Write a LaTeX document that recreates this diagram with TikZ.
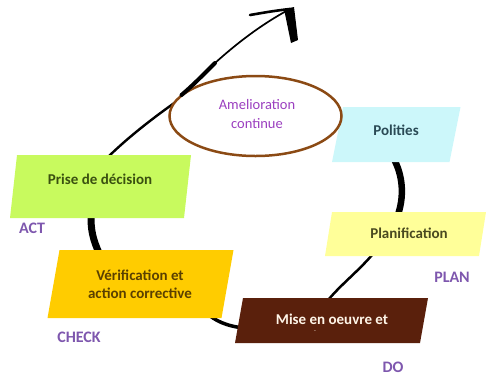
\documentclass[tikz,border=0pt]{standalone}
\usepackage{fontspec}
\setmainfont{Carlito}
\usetikzlibrary{shapes.geometric}
\pgfdeclarelayer{back}
\pgfsetlayers{back,main}
\definecolor{cPrise}{HTML}{C8FA5E}
\definecolor{cPol}{HTML}{CCF7FA}
\definecolor{cPlan}{HTML}{FFFF99}
\definecolor{cVer}{HTML}{FFCC00}
\definecolor{cMise}{HTML}{5A200C}
\definecolor{cEll}{HTML}{8B4A14}
\definecolor{cLab}{HTML}{7E57AE}
\definecolor{cAmel}{HTML}{9B3FC0}
\definecolor{tPrise}{HTML}{3A5010}
\definecolor{tPol}{HTML}{2A4A55}
\definecolor{tPlan}{HTML}{4A4A20}
\definecolor{tVer}{HTML}{5A4000}
\definecolor{tMise}{HTML}{FFF5E8}
\newcommand\pbox[7]{%
  \node[boxnode, minimum width=#4pt, minimum height=#5pt] (#1) at (#2,#3) {};
  \fill[#7] ([xshift=-#6pt/2]#1.south west) -- ([xshift=-#6pt/2]#1.south east)
     -- ([xshift=#6pt/2]#1.north east) -- ([xshift=#6pt/2]#1.north west) -- cycle;}
\begin{document}
\begin{tikzpicture}[x=1pt,y=-1pt,
  boxnode/.style={rectangle, inner sep=0pt, outer sep=0pt},
  boxtext/.style={font=\fontsize{15}{18}\selectfont\bfseries, align=center, inner sep=0pt},
  lab/.style={font=\fontsize{16}{18}\selectfont\bfseries, text=cLab, inner sep=0pt},
  loopline/.style={draw=black, line cap=round}]
\useasboundingbox (0,0) rectangle (486,376);
% boxes
\pbox{pol}{396.25}{134.5}{117.5}{55}{11}{cPol}
\pbox{plan}{405.5}{234}{154}{44}{7}{cPlan}
\pbox{mise}{331.5}{320.5}{185}{45}{8}{cMise}
\pbox{ver}{140.5}{284}{174}{68}{12}{cVer}
\pbox{prise}{100.5}{186.5}{174}{63}{7}{cPrise}
\node[ellipse, draw=cEll, line width=2.5pt, fill=white, minimum width=172pt, minimum height=80pt, inner sep=0pt] (amel) at (255.5,116) {};
% texts
\node[boxtext, text=tPol] (poltext) at (396,130) {Polities};
\node[boxtext, text=tPlan] (plantext) at (409,233) {Planification};
\node[boxtext, text=tMise] (misetext) at (332,319) {Mise en oeuvre et};
\node[text=tMise, font=\fontsize{6}{6}\selectfont, inner sep=0pt] (misedot) at (315,332) {-};
\node[boxtext, text=tVer] (vertext) at (140,284) {Vérification et\\action corrective};
\node[boxtext, text=tPrise] (prisetext) at (100,179) {Prise de décision};
\node[font=\fontsize{14.5}{18.5}\selectfont, text=cAmel, align=center, inner sep=0pt] (ameltext) at (257,114) {Amelioration\\continue};
% labels
\node[lab] (act) at (32,228) {ACT};
\node[lab] (check) at (79,337) {CHECK};
\node[lab] (planlab) at (452,277) {PLAN};
\node[lab] (do) at (393,367) {DO};
% loop
\coordinate (tip) at (290,9);
\begin{pgfonlayer}{back}
\draw[loopline, line width=6.5pt] ([xshift=-4pt,yshift=6pt]pol.south) .. controls (404,176) and (404,198) .. ([xshift=-8pt,yshift=-4pt]plan.north);
\draw[loopline, line width=2.5pt] ([xshift=-31pt,yshift=4pt]plan.south) .. controls (360,270) and (340,285) .. ([xshift=-5pt,yshift=-4pt]mise.north);
\draw[loopline, line width=3.5pt] ([xshift=5pt,yshift=-7.5pt]mise.west) .. controls (225,326) and (215,320) .. ([xshift=-20pt,yshift=4pt]ver.south east);
\draw[loopline, line width=7pt] ([xshift=-41pt,yshift=-4pt]ver.north) .. controls (93,240) and (90,228) .. ([xshift=-9pt,yshift=4pt]prise.south);
\draw[loopline, line width=2.4pt] ([xshift=5.5pt,yshift=-4pt]prise.north) .. controls (125,140) and (150,120) .. ([xshift=-77pt,yshift=16pt]amel.center);
\end{pgfonlayer}
\draw[loopline, line width=4pt] ([xshift=-74pt,yshift=21pt]amel.center) .. controls (192,86) and (200,78) .. (215,63);
\draw[loopline, line width=1.7pt] (215,63) .. controls (235,45) and (260,25) .. (tip);
\draw[loopline, line width=2.6pt] (tip) .. controls (272,11) and (262,13) .. (250,15);
\fill[black] ([xshift=-6pt]tip) -- ([xshift=4pt,yshift=2pt]tip) -- ([xshift=8pt,yshift=-31pt]tip) -- ([xshift=1pt,yshift=-34pt]tip) -- cycle;
\end{tikzpicture}
\end{document}
